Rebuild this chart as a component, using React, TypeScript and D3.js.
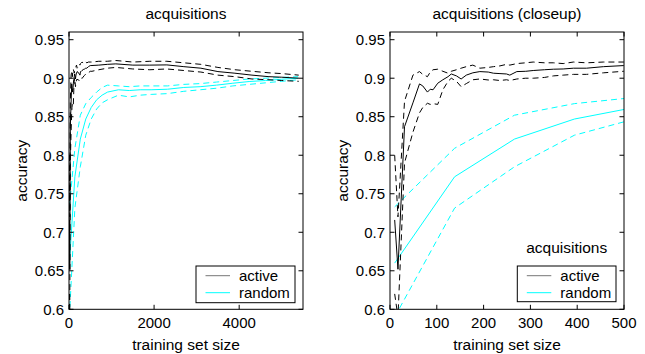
import React from "react";
import * as d3 from "d3";

// ---- data ----
const activeX = [10, 17, 31, 49, 63, 70, 80, 86, 92, 102, 113, 124, 131, 142, 152, 163, 177, 192, 210, 221, 235, 249, 256, 271, 290, 306, 330, 349, 370, 392, 420, 456, 499, 540, 700, 900, 1100, 1500, 1900, 2300, 2700, 3100, 3500, 3900, 4300, 4700, 5000, 5400];
const activeMean = [0.716, 0.652, 0.837, 0.868, 0.8926, 0.89, 0.882, 0.8857, 0.885, 0.8935, 0.898, 0.902, 0.9055, 0.903, 0.899, 0.904, 0.907, 0.9086, 0.908, 0.9065, 0.906, 0.9055, 0.904, 0.9086, 0.909, 0.91, 0.911, 0.9117, 0.912, 0.913, 0.913, 0.915, 0.9164, 0.9165, 0.917, 0.918, 0.9186, 0.917, 0.917, 0.9173, 0.915, 0.913, 0.9086, 0.9065, 0.904, 0.902, 0.9013, 0.9];
const activeUpper = [0.8, 0.72, 0.87, 0.904, 0.9086, 0.905, 0.902, 0.908, 0.911, 0.9117, 0.909, 0.9065, 0.909, 0.911, 0.913, 0.915, 0.917, 0.913, 0.914, 0.915, 0.916, 0.918, 0.917, 0.919, 0.92, 0.921, 0.92, 0.92, 0.919, 0.921, 0.92, 0.921, 0.921, 0.921, 0.922, 0.922, 0.923, 0.921, 0.922, 0.922, 0.92, 0.918, 0.914, 0.911, 0.909, 0.907, 0.906, 0.904];
const activeLower = [0.62, 0.59, 0.79, 0.83, 0.855, 0.862, 0.8675, 0.866, 0.867, 0.866, 0.885, 0.896, 0.9, 0.896, 0.889, 0.893, 0.898, 0.899, 0.8977, 0.898, 0.897, 0.898, 0.897, 0.899, 0.9, 0.9, 0.901, 0.903, 0.904, 0.905, 0.905, 0.907, 0.909, 0.909, 0.911, 0.913, 0.914, 0.912, 0.911, 0.912, 0.91, 0.908, 0.904, 0.902, 0.899, 0.898, 0.897, 0.896];

const randomX = [10, 138, 266, 394, 522, 650, 778, 906, 1162, 1418, 1674, 1930, 2314, 2698, 3082, 3466, 3850, 4234, 4618, 5002, 5386];
const randomMean = [0.66, 0.772, 0.821, 0.847, 0.862, 0.872, 0.878, 0.882, 0.885, 0.884, 0.885, 0.885, 0.8857, 0.888, 0.889, 0.891, 0.8935, 0.8957, 0.897, 0.8987, 0.9];
const randomUpper = [0.733, 0.809, 0.852, 0.867, 0.875, 0.882, 0.888, 0.891, 0.89, 0.889, 0.89, 0.89, 0.89, 0.892, 0.893, 0.895, 0.897, 0.899, 0.9, 0.901, 0.902];
const randomLower = [0.59, 0.7314, 0.785, 0.826, 0.847, 0.86, 0.868, 0.872, 0.878, 0.8757, 0.878, 0.879, 0.88, 0.883, 0.885, 0.887, 0.89, 0.892, 0.894, 0.896, 0.898];

const yTicks = [0.6, 0.65, 0.7, 0.75, 0.8, 0.85, 0.9, 0.95];
const xTicksFull = [0, 2000, 4000];
const xTicksClose = [0, 100, 200, 300, 400, 500];
const seriesNames = ["active", "random"];

const FONT = "'Liberation Sans', Arial, Helvetica, sans-serif";
const CYAN = "#00ffff";

type PanelProps = {
  id: string;
  x0: number;
  x1: number;
  xMax: number;
  xTicks: number[];
  title: string;
  legendTitle?: string;
  legend: { x: number; y: number; w: number; h: number };
};

function Panel({ id, x0, x1, xMax, xTicks, title, legendTitle, legend }: PanelProps) {
  const y0 = 32;
  const y1 = 309.3;
  const xs = d3.scaleLinear().domain([0, xMax]).range([x0, x1]);
  const ys = d3.scaleLinear().domain([0.6, 0.96]).range([y1, y0]);
  const mk = (xv: number[], yv: number[]) =>
    d3.line<number>().x((_, i) => xs(xv[i])).y((d) => ys(d))(yv) || "";
  const tl = 4.5;
  const fmt = (v: number) => String(+v.toFixed(2));
  const cx = (x0 + x1) / 2;
  const cy = (y0 + y1) / 2;
  const dash = "6,4";
  return (
    <g fontFamily={FONT}>
      <defs>
        <clipPath id={id}>
          <rect x={x0} y={y0} width={x1 - x0} height={y1 - y0} />
        </clipPath>
      </defs>
      <rect x={x0} y={y0} width={x1 - x0} height={y1 - y0} fill="white" />
      <g clipPath={`url(#${id})`} fill="none" strokeWidth={1}>
        <path d={mk(randomX, randomMean)} stroke={CYAN} />
        <path d={mk(randomX, randomUpper)} stroke={CYAN} strokeDasharray={dash} />
        <path d={mk(randomX, randomLower)} stroke={CYAN} strokeDasharray={dash} />
        <path d={mk(activeX, activeMean)} stroke="black" />
        <path d={mk(activeX, activeUpper)} stroke="black" strokeDasharray={dash} />
        <path d={mk(activeX, activeLower)} stroke="black" strokeDasharray={dash} />
      </g>
      <rect x={x0} y={y0} width={x1 - x0} height={y1 - y0} fill="none" stroke="black" strokeWidth={1} />
      {yTicks.map((t) => (
        <g key={"y" + t}>
          <line x1={x0} x2={x0 + tl} y1={ys(t)} y2={ys(t)} stroke="black" />
          <line x1={x1} x2={x1 - tl} y1={ys(t)} y2={ys(t)} stroke="black" />
          <text x={x0 - 5} y={ys(t) + 5.3} textAnchor="end" fontSize={15}>
            {fmt(t)}
          </text>
        </g>
      ))}
      {xTicks.map((t) => (
        <g key={"x" + t}>
          <line x1={xs(t)} x2={xs(t)} y1={y1} y2={y1 - tl} stroke="black" />
          <line x1={xs(t)} x2={xs(t)} y1={y0} y2={y0 + tl} stroke="black" />
          <text x={xs(t)} y={328} textAnchor="middle" fontSize={15}>
            {t}
          </text>
        </g>
      ))}
      <text x={cx} y={18.5} textAnchor="middle" fontSize={15.5}>
        {title}
      </text>
      <text x={cx} y={349.5} textAnchor="middle" fontSize={15.5}>
        training set size
      </text>
      <text transform={`translate(${x0 - 42},${cy}) rotate(-90)`} textAnchor="middle" fontSize={15.5}>
        accuracy
      </text>
      {legendTitle && (
        <text x={legend.x + legend.w / 2} y={legend.y - 13} textAnchor="middle" fontSize={15.5}>
          {legendTitle}
        </text>
      )}
      <rect x={legend.x} y={legend.y} width={legend.w} height={legend.h} fill="white" stroke="black" strokeWidth={1} />
      {seriesNames.map((n, i) => (
        <g key={n}>
          <line
            x1={legend.x + 9.5}
            x2={legend.x + 34}
            y1={legend.y + 9.7 + i * 17}
            y2={legend.y + 9.7 + i * 17}
            stroke={i === 0 ? "#777" : CYAN}
            strokeWidth={1}
          />
          <text x={legend.x + 43} y={legend.y + 15 + i * 17} fontSize={15}>
            {n}
          </text>
        </g>
      ))}
    </g>
  );
}

export default function App() {
  return (
    <svg width={645} height={354} style={{ position: "absolute", left: 0, top: 0, background: "white" }}>
      <rect width={645} height={354} fill="white" />
      <Panel
        id="clipA"
        x0={69}
        x1={303}
        xMax={5500}
        xTicks={xTicksFull}
        title="acquisitions"
        legend={{ x: 196, y: 266, w: 99, h: 36.7 }}
      />
      <Panel
        id="clipB"
        x0={390}
        x1={624}
        xMax={500}
        xTicks={xTicksClose}
        title="acquisitions (closeup)"
        legendTitle="acquisitions"
        legend={{ x: 517.3, y: 266, w: 98.7, h: 35.7 }}
      />
    </svg>
  );
}
